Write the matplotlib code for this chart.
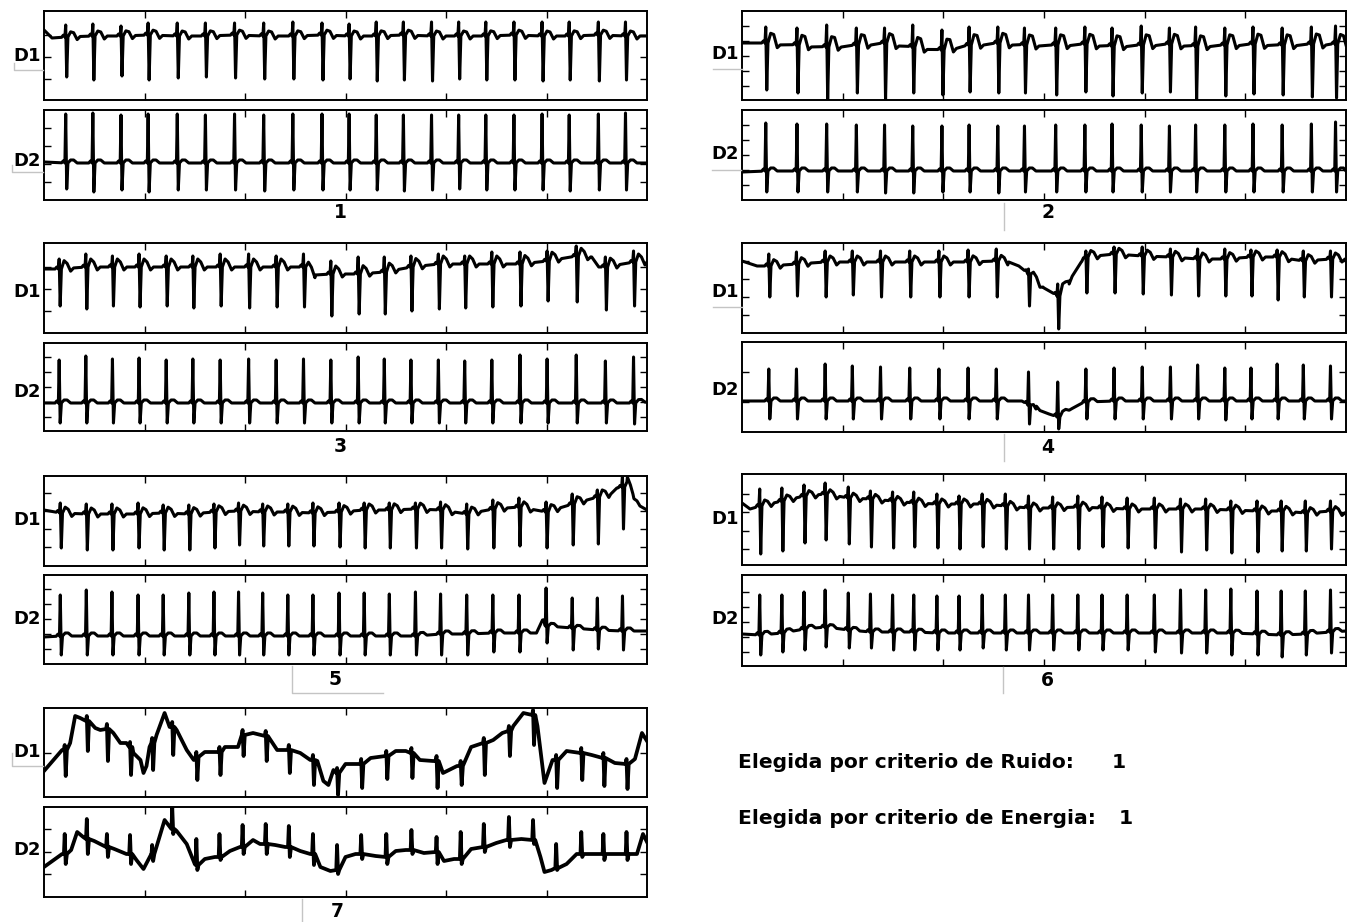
import numpy as np
import matplotlib
matplotlib.use("Agg")
import matplotlib.pyplot as plt
from matplotlib.lines import Line2D

plt.rcParams['font.family'] = ['DejaVu Sans']

W, H = 1358, 922

# =============================================================================
# beat times (s) and signal levels (a.u. above the bottom of each trace box)
# =============================================================================
p1_t = [0.22, 0.49, 0.77, 1.04, 1.33, 1.61, 1.90, 2.19, 2.48, 2.77, 3.04,
        3.31, 3.58, 3.86, 4.13, 4.40, 4.68, 4.96, 5.23, 5.52, 5.79]
p1_d1_base = [63, 64, 64, 65, 64, 64, 65, 64, 64, 65, 64, 64, 65, 64, 64, 64, 65, 64, 64, 65, 64]
p1_d1_r = [75, 76, 74, 77, 77, 77, 77, 77, 78, 77, 76, 78, 78, 78, 78, 78, 78, 78, 78, 78, 78]
p1_d1_s = [23, 20, 24, 20, 22, 23, 22, 21, 21, 20, 21, 19, 20, 19, 21, 20, 20, 19, 20, 19, 20]
p1_d1_extra = [(0.0, 70), (0.08, 62), (6.0, 64)]
p1_d2_base = [37, 37, 37, 37, 37, 37, 37, 37, 37, 37, 37, 37, 37, 37, 37, 37, 37, 37, 37, 37, 37]
p1_d2_r = [86, 87, 85, 86, 86, 85, 86, 85, 86, 86, 86, 85, 85, 85, 85, 85, 85, 86, 85, 86, 87]
p1_d2_s = [11, 8, 10, 8, 10, 10, 10, 9, 10, 10, 10, 10, 9, 10, 11, 10, 10, 10, 9, 10, 10]
p1_d2_extra = [(0.0, 38), (6.0, 37)]

p2_t = [0.24, 0.55, 0.845, 1.14, 1.42, 1.70, 1.99, 2.26, 2.545, 2.81, 3.12,
        3.41, 3.68, 3.97, 4.25, 4.51, 4.80, 5.08, 5.37, 5.66, 5.90]
p2_d1_base = [57, 55, 53, 55, 57, 53, 50, 55, 57, 55, 55, 56, 54, 55, 56, 54, 55, 56, 55, 56, 56]
p2_d1_r = [73, 72, 75, 72, 72, 75, 70, 73, 73, 72, 72, 73, 72, 74, 72, 73, 72, 73, 72, 73, 74]
p2_d1_s = [10, 7, 1, 7, 0, 7, 5, 8, 7, 7, 5, 8, 4, 7, 8, 1, 4, 6, 5, 3, 2]
p2_d1_extra = [(0.0, 57), (6.0, 55)]
p2_d2_base = [29, 29, 29, 29, 29, 29, 29, 29, 29, 29, 29, 29, 29, 29, 29, 29, 29, 29, 29, 29, 29]
p2_d2_r = [77, 76, 76, 75, 75, 74, 74, 75, 74, 74, 75, 75, 76, 75, 74, 75, 75, 76, 75, 76, 78]
p2_d2_s = [8, 8, 8, 8, 7, 7, 8, 8, 7, 8, 8, 8, 8, 8, 8, 8, 8, 8, 8, 8, 8]
p2_d2_extra = [(0.0, 28), (6.0, 29)]

p3_t = [0.155, 0.42, 0.685, 0.95, 1.22, 1.485, 1.757, 2.04, 2.314, 2.586, 2.858,
        3.13, 3.39, 3.655, 3.928, 4.19, 4.46, 4.74, 5.01, 5.30, 5.59, 5.87]
p3_d1_base = [64, 66, 66, 66, 66, 66, 66, 66, 66, 66, 59, 59, 61, 66, 69, 69, 69, 69, 72, 77, 66, 71]
p3_d1_r = [74, 79, 77, 79, 77, 77, 79, 79, 77, 79, 72, 76, 76, 77, 79, 77, 81, 81, 82, 87, 76, 82]
p3_d1_s = [27, 24, 27, 26, 27, 25, 27, 25, 26, 26, 17, 19, 19, 22, 24, 25, 26, 27, 32, 31, 23, 27]
p3_d1_extra = [(0.0, 64), (2.70, 58), (5.45, 76), (5.52, 66), (6.0, 71)]
p3_d2_base = [28, 28, 28, 28, 28, 28, 28, 28, 28, 28, 28, 28, 28, 28, 28, 28, 28, 28, 28, 28, 28, 28]
p3_d2_r = [71, 75, 72, 73, 71, 72, 71, 72, 71, 72, 71, 74, 72, 71, 71, 70, 71, 76, 72, 76, 70, 74]
p3_d2_s = [8, 8, 8, 8, 8, 8, 8, 8, 8, 8, 8, 8, 8, 8, 8, 8, 8, 8, 8, 8, 8, 7]
p3_d2_extra = [(0.0, 28), (6.0, 29)]

p4_t = [0.27, 0.545, 0.83, 1.10, 1.38, 1.67, 1.96, 2.25, 2.53, 2.85, 3.14,
        3.42, 3.70, 3.98, 4.26, 4.53, 4.80, 5.06, 5.32, 5.58, 5.85]
p4_d1_base = [67, 69, 71, 71, 71, 71, 71, 71, 72, 59, 37, 76, 79, 77, 76, 74, 74, 76, 76, 72, 74]
p4_d1_r = [79, 81, 82, 82, 82, 82, 82, 83, 84, 64, 49, 82, 86, 86, 84, 84, 84, 83, 83, 82, 82]
p4_d1_s = [36, 37, 36, 38, 36, 36, 36, 36, 36, 27, 4, 40, 40, 39, 38, 37, 37, 37, 33, 36, 36]
p4_d1_extra = [(0.0, 72), (0.15, 67), (2.65, 71), (2.75, 67), (3.0, 45),
               (3.25, 52), (3.37, 71), (6.0, 74)]
p4_d2_base = [31, 31, 31, 31, 31, 31, 31, 31, 31, 27, 15, 30, 31, 31, 31, 31, 31, 31, 31, 31, 31]
p4_d2_r = [63, 63, 68, 66, 65, 64, 63, 64, 63, 60, 50, 63, 64, 65, 65, 67, 64, 64, 68, 67, 66]
p4_d2_s = [13, 13, 13, 13, 13, 13, 13, 13, 13, 8, 3, 13, 13, 13, 13, 13, 12, 13, 13, 13, 13]
p4_d2_extra = [(0.0, 31), (2.78, 31), (2.92, 23), (3.05, 18), (3.27, 23), (3.38, 29), (6.0, 31)]

p5_t = [0.166, 0.425, 0.68, 0.94, 1.19, 1.445, 1.695, 1.94, 2.18, 2.43, 2.68, 2.94,
        3.19, 3.44, 3.70, 3.95, 4.21, 4.47, 4.73, 5.0, 5.26, 5.51, 5.76]
p5_d1_base = [53, 52, 52, 52, 53, 52, 54, 55, 54, 54, 53, 54, 56, 56, 57,
              56, 52, 57, 59, 54, 62, 69, 79]
p5_d1_r = [63, 62, 62, 63, 61, 61, 62, 63, 62, 62, 63, 63, 63, 63, 63,
           64, 62, 66, 68, 64, 72, 76, 91]
p5_d1_s = [18, 16, 16, 18, 16, 16, 18, 21, 20, 20, 20, 19, 18, 18, 18,
           18, 17, 18, 20, 18, 21, 22, 37]
p5_d1_extra = [(0.0, 56), (5.64, 72), (5.70, 78), (5.80, 84), (5.86, 72), (5.93, 60), (6.0, 56)]
p5_d2_base = [28, 28, 28, 28, 28, 28, 28, 28, 28, 28, 28, 28, 28, 28, 28,
              30, 30, 31, 31, 38, 36, 34, 33]
p5_d2_r = [69, 74, 72, 69, 69, 71, 72, 72, 71, 69, 69, 71, 71, 70, 72,
           70, 69, 69, 69, 76, 66, 66, 68]
p5_d2_s = [9, 9, 9, 9, 9, 9, 9, 9, 9, 9, 9, 9, 9, 9, 9,
           9, 9, 12, 12, 21, 14, 15, 14]
p5_d2_extra = [(0.0, 27), (4.90, 31), (4.96, 44), (6.0, 33)]

p6_t = [0.18, 0.40, 0.62, 0.83, 1.06, 1.28, 1.50, 1.71, 1.94, 2.16, 2.39, 2.62, 2.85,
        3.09, 3.34, 3.58, 3.83, 4.10, 4.36, 4.61, 4.86, 5.12, 5.36, 5.60, 5.85]
p6_d1_base = [59, 64, 69, 71, 67, 66, 64, 62, 61, 61, 61, 59, 57,
              57, 58, 57, 56, 56, 56, 56, 55, 54, 54, 52, 54]
p6_d1_r = [76, 77, 80, 82, 78, 74, 73, 73, 71, 69, 71, 71, 69,
           68, 69, 68, 67, 67, 66, 66, 64, 64, 64, 64, 64]
p6_d1_s = [11, 14, 22, 25, 21, 18, 17, 18, 17, 16, 18, 16, 16,
           16, 16, 18, 17, 17, 13, 15, 12, 13, 14, 14, 16]
p6_d1_extra = [(0.0, 62), (0.08, 56), (6.0, 52)]
p6_d2_base = [31, 33, 37, 39, 36, 34, 34, 34, 33, 33, 33, 33, 33,
              33, 33, 33, 33, 33, 33, 33, 33, 32, 31, 32, 34]
p6_d2_r = [71, 71, 74, 76, 73, 72, 71, 71, 70, 70, 71, 71, 71,
           71, 71, 71, 71, 71, 76, 76, 77, 75, 75, 75, 76]
p6_d2_s = [11, 14, 16, 19, 18, 18, 16, 16, 16, 16, 18, 16, 16,
           16, 16, 16, 16, 14, 13, 13, 11, 11, 9, 11, 13]
p6_d2_extra = [(0.0, 32), (6.0, 35)]

p7_t = [0.21, 0.43, 0.63, 0.86, 1.08, 1.28, 1.52, 1.75, 1.98, 2.21, 2.44, 2.68, 2.92,
        3.16, 3.41, 3.66, 3.91, 4.15, 4.38, 4.63, 4.87, 5.10, 5.35, 5.57, 5.80]
p7_d1_base = [47, 76, 68, 50, 54, 70, 40, 45, 62, 61, 47, 37, 24,
              33, 41, 44, 36, 31, 54, 66, 82, 37, 44, 39, 33]
p7_d1_r = [52, 81, 73, 55, 59, 75, 45, 50, 67, 66, 52, 42, 29,
           38, 46, 49, 41, 36, 59, 71, 87, 42, 49, 44, 38]
p7_d1_s = [21, 46, 36, 22, 27, 42, 17, 22, 41, 36, 24, 12, 2,
           9, 18, 19, 9, 12, 22, 41, 52, 9, 17, 11, 8]
p7_d1_extra = [(0.0, 26), (0.18, 47), (0.26, 54), (0.31, 81), (0.36, 79), (0.51, 69),
               (0.56, 67), (0.69, 64), (0.76, 54), (0.82, 54), (0.89, 44), (0.96, 37),
               (0.99, 24), (1.02, 31), (1.05, 50), (1.12, 62), (1.20, 84), (1.25, 70),
               (1.32, 67), (1.42, 47), (1.49, 37), (1.60, 45), (1.70, 45), (1.80, 50),
               (1.93, 50), (2.08, 64), (2.32, 47), (2.55, 44), (2.65, 37), (2.72, 36),
               (2.78, 16), (2.83, 12), (2.88, 27), (3.0, 33), (3.25, 39), (3.50, 46),
               (3.60, 46), (3.74, 37), (3.87, 36), (3.97, 24), (4.11, 31), (4.25, 50),
               (4.47, 57), (4.56, 64), (4.67, 71), (4.77, 84), (4.91, 71), (4.98, 14),
               (5.06, 37), (5.20, 46), (5.45, 42), (5.68, 34), (5.88, 38), (5.95, 64),
               (6.0, 56)]
p7_d2_base = [43, 58, 50, 43, 43, 68, 32, 40, 50, 53, 50, 43, 27,
              43, 40, 47, 45, 38, 50, 57, 57, 29, 43, 43, 43]
p7_d2_r = [63, 78, 63, 62, 52, 90, 58, 63, 72, 73, 71, 63, 52,
           62, 63, 67, 60, 65, 73, 80, 77, 53, 65, 63, 65]
p7_d2_s = [33, 43, 40, 33, 36, 63, 27, 37, 43, 43, 40, 32, 23,
           38, 33, 43, 33, 33, 45, 50, 53, 27, 40, 37, 37]
p7_d2_extra = [(0.0, 30), (0.18, 43), (0.27, 47), (0.33, 65), (0.39, 60), (0.50, 56),
               (0.56, 53), (0.70, 48), (0.82, 43), (0.92, 37), (0.99, 28), (1.07, 43),
               (1.20, 77), (1.32, 66), (1.42, 53), (1.50, 33), (1.60, 38), (1.70, 40),
               (1.85, 46), (1.95, 50), (2.08, 57), (2.15, 53), (2.30, 52), (2.40, 50),
               (2.55, 46), (2.65, 43), (2.75, 30), (2.85, 26), (3.0, 40), (3.10, 43),
               (3.30, 41), (3.50, 46), (3.60, 47), (3.78, 44), (3.98, 36), (4.08, 38),
               (4.25, 48), (4.50, 54), (4.60, 57), (4.75, 58), (4.85, 57), (4.94, 40),
               (4.98, 25), (5.05, 27), (5.20, 33), (5.30, 43), (5.45, 43), (5.70, 43),
               (5.90, 43), (5.96, 63), (6.0, 55)]

# P / T wave offsets around each beat
wave_d1 = {1: [0, 2, 5, 4, -3, 0], 2: [0, 2, 10, 9, -4, -1], 3: [0, 2, 8, 5, -3, 0],
           4: [0, 2, 6, 4, -3, 0], 5: [0, 2, 6, 4, -3, 0], 6: [0, 2, 5, 3, -3, 0], 7: None}
wave_d2 = {1: [0, 2, 3, 3, 0, 0], 2: [0, 2, 3, 3, 0, 0], 3: [0, 2, 3, 3, 0, 0],
           4: [0, 2, 3, 3, 0, 0], 5: [0, 2, 3, 3, 0, 0], 6: [0, 2, 3, 3, 0, 0], 7: None}
WAVE_DT = [-0.045, -0.028, 0.045, 0.075, 0.11, 0.14]

result_labels = ["Elegida por criterio de Ruido:", "Elegida por criterio de Energia:"]
result_values = ["1", "1"]


def build_trace(t, base, r, s, wave, extra):
    kx, ky = zip(*sorted(list(zip(t, base)) + list(extra)))
    xs = [p[0] for p in extra]
    ys = [p[1] for p in extra]
    for k, tk in enumerate(t):
        xs += [tk - 0.012, tk - 0.004, tk + 0.006, tk + 0.018]
        ys += [base[k], r[k], s[k], base[k]]
        if wave:
            for dt, w in zip(WAVE_DT, wave):
                xs.append(tk + dt)
                ys.append(np.interp(tk + dt, kx, ky) + w)
    xs = np.array(xs)
    ys = np.array(ys)
    order = np.argsort(xs, kind="stable")
    xs, ys = xs[order], ys[order]
    keep = (xs >= 0) & (xs <= 6)
    return xs[keep], ys[keep]


# layout of each record: column x-range, D1 box, D2 box (pixels), number position
panels = [
    (1, (44, 647), (11, 100), (110, 200), (340, 213), [21, 43, 65], [18, 36, 54, 72],
     p1_t, (p1_d1_base, p1_d1_r, p1_d1_s, p1_d1_extra), (p1_d2_base, p1_d2_r, p1_d2_s, p1_d2_extra), (56, 161)),
    (2, (742, 1346), (11, 100), (110, 200), (1048, 213), [14, 29, 44, 59, 74], [15, 30, 45, 60, 75],
     p2_t, (p2_d1_base, p2_d1_r, p2_d1_s, p2_d1_extra), (p2_d2_base, p2_d2_r, p2_d2_s, p2_d2_extra), (54, 154)),
    (3, (44, 647), (243, 333), (343, 431), (340, 446), [22, 44, 66], [14, 29, 44, 59, 74],
     p3_t, (p3_d1_base, p3_d1_r, p3_d1_s, p3_d1_extra), (p3_d2_base, p3_d2_r, p3_d2_s, p3_d2_extra), (292, 392)),
    (4, (742, 1346), (243, 333), (342, 432), (1048, 447), [18, 36, 54, 72], [30, 60],
     p4_t, (p4_d1_base, p4_d1_r, p4_d1_s, p4_d1_extra), (p4_d2_base, p4_d2_r, p4_d2_s, p4_d2_extra), (292, 390)),
    (5, (44, 647), (476, 566), (575, 664), (335, 679), [19, 37, 55, 73], [15, 30, 45, 60, 75],
     p5_t, (p5_d1_base, p5_d1_r, p5_d1_s, p5_d1_extra), (p5_d2_base, p5_d2_r, p5_d2_s, p5_d2_extra), (520, 619)),
    (6, (742, 1346), (474, 565), (575, 666), (1047, 681), [16, 34, 53, 71], [14, 29, 44, 59, 74],
     p6_t, (p6_d1_base, p6_d1_r, p6_d1_s, p6_d1_extra), (p6_d2_base, p6_d2_r, p6_d2_s, p6_d2_extra), (519, 619)),
    (7, (44, 647), (708, 797), (807, 897), (337, 911), [44], [23, 45, 68],
     p7_t, (p7_d1_base, p7_d1_r, p7_d1_s, p7_d1_extra), (p7_d2_base, p7_d2_r, p7_d2_s, p7_d2_extra), (752, 850)),
]

fig = plt.figure(figsize=(W / 100, H / 100), dpi=100)
fig.patch.set_facecolor("white")


def fx(x):
    return x / W


def fy(y):
    return 1 - y / H


for num, (x0, x1), box1, box2, numpos, yt1, yt2, t, d1, d2, labys in panels:
    for lead, (y0, y1), yt, data, waves, laby in (("D1", box1, yt1, d1, wave_d1, labys[0]),
                                                   ("D2", box2, yt2, d2, wave_d2, labys[1])):
        ax = fig.add_axes([fx(x0), fy(y1), (x1 - x0) / W, (y1 - y0) / H])
        base, r, s, extra = data
        x, y = build_trace(t, base, r, s, waves[num], extra)
        ax.plot(x, y, color="black", lw=2.7 if num == 7 else 2.2, solid_joinstyle="round")
        ax.set_xlim(0, 6)
        ax.set_ylim(0, y1 - y0)
        ax.set_xticks([1, 2, 3, 4, 5])
        ax.set_yticks(yt)
        ax.tick_params(direction="in", length=5, width=1, top=True, right=True,
                       labelbottom=False, labelleft=False)
        for sp in ax.spines.values():
            sp.set_linewidth(1.4)
        fig.text(fx(x0 - 3), fy(laby), lead, ha="right", va="center",
                 fontsize=13, fontweight="bold")
    fig.text(fx(numpos[0]), fy(numpos[1]), str(num), ha="center", va="center",
             fontsize=13.5, fontweight="bold")

# selection summary
for i, (lab, val) in enumerate(zip(result_labels, result_values)):
    yy = 762 + 56 * i
    fig.text(fx(738), fy(yy), lab, ha="left", va="center", fontsize=14.6, fontweight="bold")
    fig.text(fx(1112 + 7 * i), fy(yy), val, ha="left", va="center", fontsize=14.6, fontweight="bold")

# leftover control edges
ui_lines = [
    [(14, 63), (14, 70), (43, 70)],
    [(12, 165), (12, 172), (43, 172)],
    [(713, 69), (742, 69)],
    [(712, 170), (741, 170)],
    [(1004, 203), (1004, 230)],
    [(713, 307), (742, 307)],
    [(1004, 434), (1004, 461)],
    [(292, 666), (292, 693), (383, 693)],
    [(1003, 667), (1003, 693)],
    [(12, 753), (12, 766), (43, 766)],
    [(302, 899), (302, 922)],
]
for seg in ui_lines:
    fig.add_artist(Line2D([fx(p[0]) for p in seg], [fy(p[1]) for p in seg],
                          color="#c4c4c4", lw=1))

fig.savefig("out.png", dpi=100, facecolor="white")
